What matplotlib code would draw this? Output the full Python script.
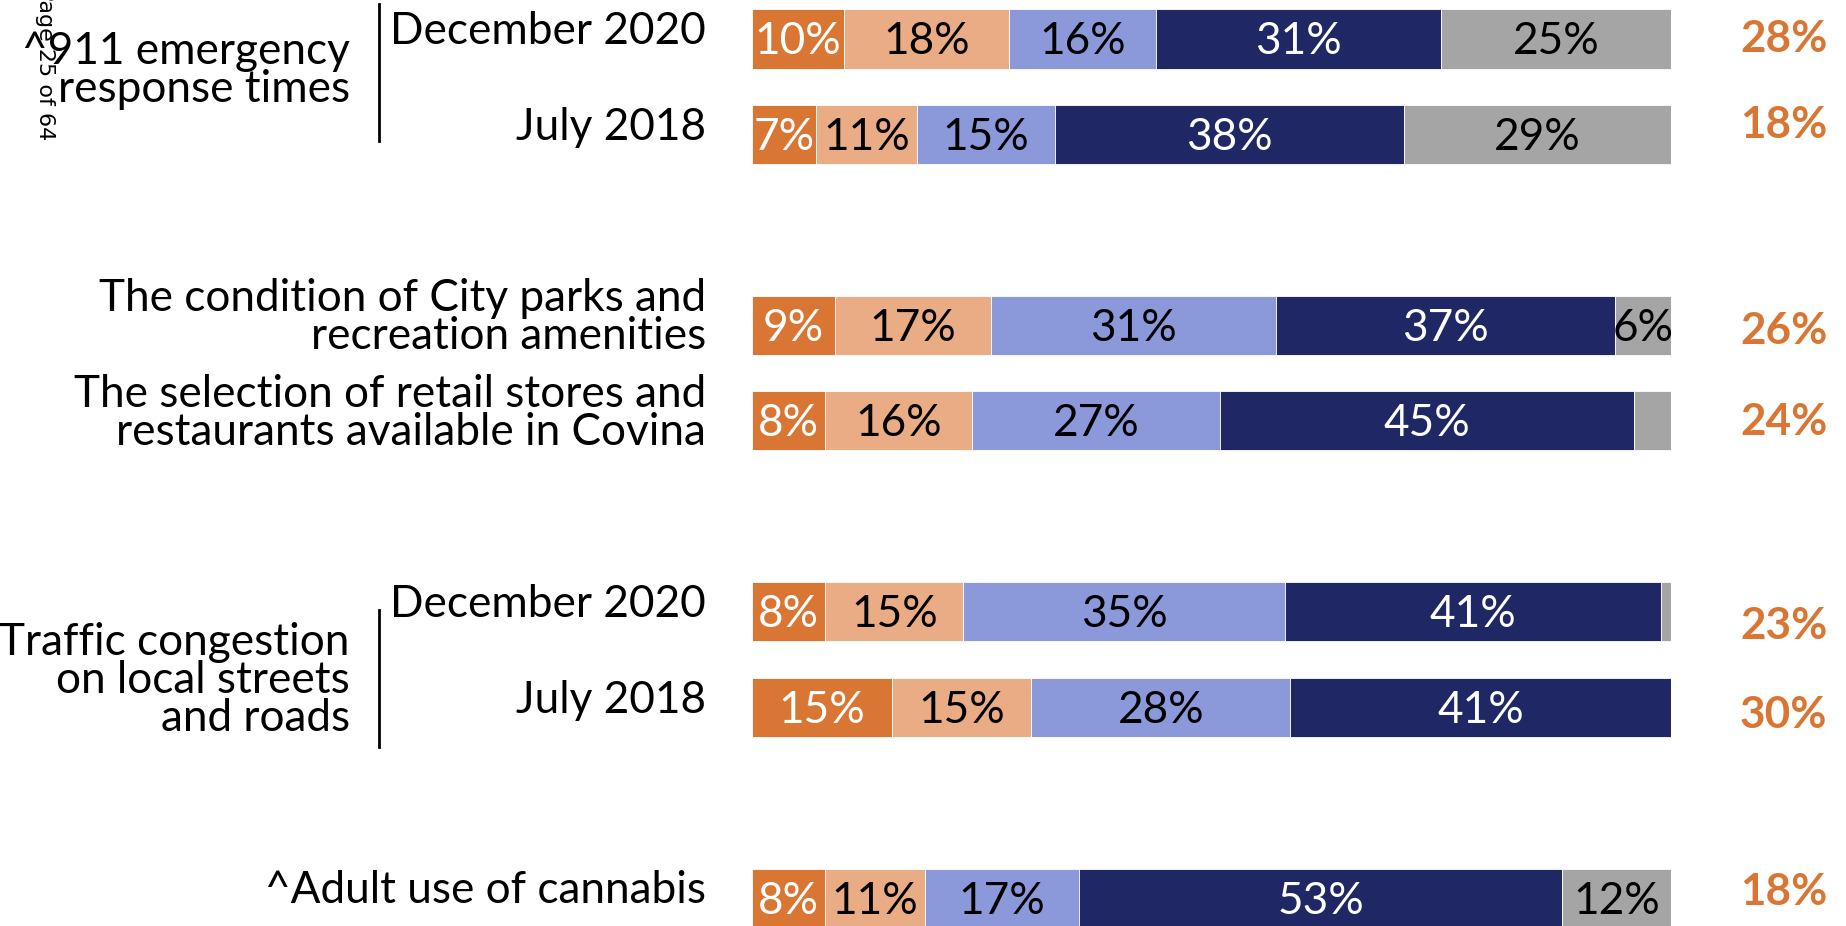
import matplotlib
matplotlib.use("Agg")
import matplotlib.pyplot as plt

# ---------------- data ----------------
row_labels = ["December 2020", "July 2018",
              "The condition of City parks and\nrecreation amenities",
              "The selection of retail stores and\nrestaurants available in Covina",
              "December 2020", "July 2018",
              "^Adult use of cannabis"]
group_labels = ["^911 emergency\nresponse times", "Traffic congestion\non local streets\nand roads"]

very_serious = [10, 7, 9, 8, 8, 15.2, 8]
somewhat_serious = [18, 11, 17, 16, 15, 15.2, 10.8]
not_too_serious = [16, 15, 31, 27, 35, 28.2, 16.8]
not_a_problem = [31, 38, 37, 45, 41, 41.4, 52.6]
dont_know = [25, 29, 6, 4, 1, 0, 11.8]
shown_dont_know = [True, True, True, False, False, False, True]

total_serious = [28, 18, 26, 24, 23, 30, 18]

# ---------------- style ----------------
colors = ["#D97634", "#E9AC84", "#8B98DA", "#1F2864", "#A5A5A5"]
text_colors = ["white", "black", "black", "white", "black"]
plt.rcParams["font.family"] = ["Lato", "DejaVu Sans"]

W, H = 1846, 926
fig = plt.figure(figsize=(W / 100, H / 100), dpi=100)
ax = fig.add_axes([752 / W, 0, (1670.6 - 752) / W, 1])
ax.set_xlim(0, 100)
ax.set_ylim(9.29, -0.408)
ax.axis("off")

ypos = [0, 1, 3, 4, 6, 7, 9]
series = [very_serious, somewhat_serious, not_too_serious, not_a_problem, dont_know]
bar_h = 0.62
FS = 31.8

for i, y in enumerate(ypos):
    left = 0
    for s_idx, s in enumerate(series):
        v = s[i]
        if v > 0:
            ax.barh(y, v, left=left, height=bar_h, color=colors[s_idx],
                    edgecolor="white", linewidth=0.6)
            show = v >= 5 if s_idx < 4 else (shown_dont_know[i])
            if show:
                ax.text(left + v / 2, y + 0.03, f"{round(v)}%", ha="center", va="center",
                        fontsize=FS, color=text_colors[s_idx])
        left += v

# row labels
row_label_y = [-0.075, 0.93, 2.92, 3.92, 5.92, 6.93, 8.92]
for lab, y in zip(row_labels, row_label_y):
    ax.text(-5.0, y, lab, ha="right", va="center", fontsize=FS, linespacing=0.9)

# group labels and separators
group_y = [0.33, 6.72]
sep = [(-0.37, 1.07), (5.98, 7.42)]
for lab, y, (y0, y1) in zip(group_labels, group_y, sep):
    ax.text(-43.8, y, lab, ha="right", va="center", fontsize=FS, linespacing=0.9)
    ax.plot([-40.6, -40.6], [y0, y1], color="black", lw=2, clip_on=False)

# right-hand totals
total_y = [0.0, 0.9, 3.06, 4.01, 6.15, 7.08, 8.93]
for v, y in zip(total_serious, total_y):
    ax.text(112.3, y, f"{v}%", ha="center", va="center", fontsize=FS,
            fontweight="bold", color="#D97634")

# page watermark
fig.text(45 / W, 1 - 140 / H, "Page 25 of 64", rotation=-90, ha="center", va="bottom",
         fontsize=16, family=["DejaVu Sans"])

fig.savefig("out.png", dpi=100)
